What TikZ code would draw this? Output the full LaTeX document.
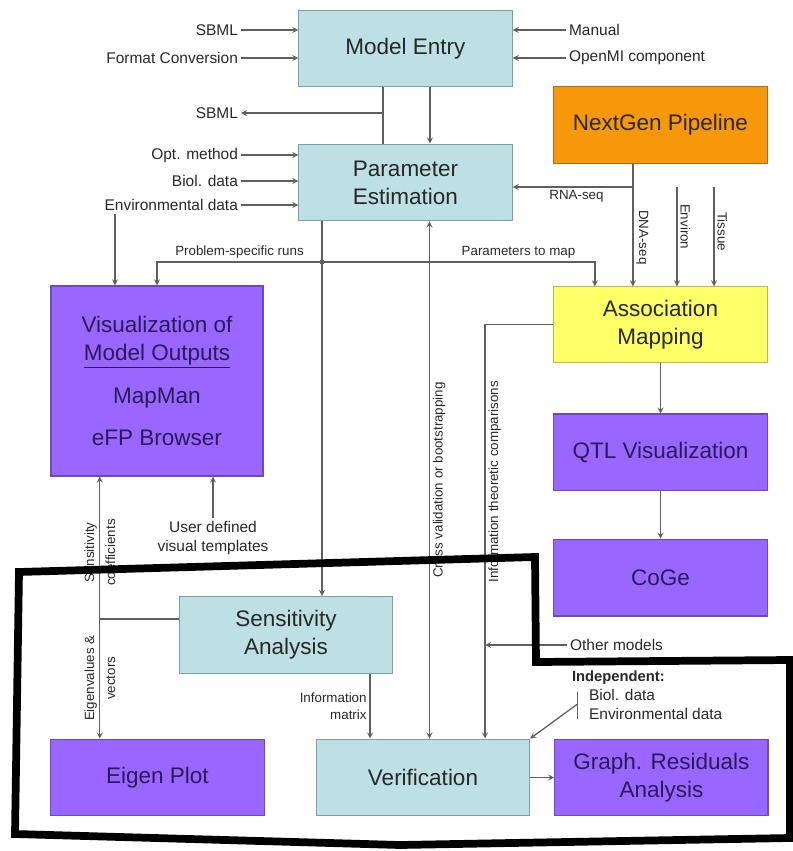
\documentclass[tikz,border=0pt]{standalone}
\usepackage{fontspec}
\setmainfont{Liberation Sans}
\usepackage{tikz}
\usetikzlibrary{arrows,positioning,calc}
\usepackage{xcolor}
\definecolor{mgteal}{RGB}{189,224,228}
\definecolor{mgtealdark}{RGB}{125,160,165}
\definecolor{mgpurple}{RGB}{153,102,255}
\definecolor{mgpurpledark}{RGB}{105,75,190}
\definecolor{mgpurpletext}{RGB}{45,25,90}
\definecolor{mgyellow}{RGB}{255,255,102}
\definecolor{mgyellowdark}{RGB}{185,185,90}
\definecolor{mgorange}{RGB}{245,152,10}
\definecolor{mgorangedark}{RGB}{180,105,30}
\definecolor{mgline}{RGB}{95,95,95}
\definecolor{mgtext}{RGB}{40,40,40}
\tikzstyle{arrow} = [->,>=stealth,color=mgline,line width=0.9pt]
\tikzstyle{wire} = [color=mgline,line width=0.9pt]
\tikzstyle{tealbox} = [rectangle, minimum width=5.33cm, minimum height=1.92cm, text centered, align=center, draw=mgtealdark, fill=mgteal, line width=0.8pt, text=mgtext, font=\fontsize{16}{20}\selectfont]
\tikzstyle{purplebox} = [tealbox, draw=mgpurpledark, fill=mgpurple, text=mgpurpletext]
\tikzstyle{yellowbox} = [tealbox, draw=mgyellowdark, fill=mgyellow]
\tikzstyle{orangebox} = [tealbox, draw=mgorangedark, fill=mgorange]
\tikzstyle{inlabel} = [font=\fontsize{11}{13.5}\selectfont, text=mgtext, inner sep=2pt]
\tikzstyle{wirelabel} = [font=\fontsize{9.5}{12.5}\selectfont, text=mgtext, inner sep=2pt]

\begin{document}
\begin{tikzpicture}[x=0.025cm, y=-0.025cm]
\useasboundingbox (0,0) rectangle (793,851);

% Model boxes
\node[tealbox] (entry) at (405.5,48.5) {Model Entry};
\node[tealbox] (param) at (405.5,182.5) {Parameter\\Estimation};
\node[orangebox] (nextgen) at (660.5,125) {NextGen Pipeline};
\node[yellowbox, minimum height=1.88cm] (assoc) at (660.5,324.5) {Association\\Mapping};
\node[purplebox, below=1.27cm of assoc] (qtl) {QTL Visualization};
\node[purplebox, below=1.18cm of qtl] (coge) {CoGe};
\node[purplebox, minimum width=5.3cm, minimum height=4.75cm] (vis) at (157,381) {Visualization of\\\underline{Model Outputs}\\[10pt]MapMan\\[10pt]eFP Browser};
\node[tealbox] (sens) at (286,635) {Sensitivity\\Analysis};
\node[purplebox] (eigen) at (157.5,777.5) {Eigen Plot};
\node[tealbox] (verif) at (423,777.5) {Verification};
\node[purplebox, right=0.6cm of verif] (resid) {Graph. Residuals\\Analysis};

% Inputs to model entry
\node[inlabel, anchor=east] (sbmlin) at (241,30) {SBML};
\node[inlabel, anchor=east] (fmtconv) at (241,58) {Format Conversion};
\node[inlabel, anchor=west] (manual) at (566,30) {Manual};
\node[inlabel, anchor=west] (openmi) at (566,58) {OpenMI component};
\draw[arrow] (sbmlin.east) -- (sbmlin.east -| entry.west);
\draw[arrow] (fmtconv.east) -- (fmtconv.east -| entry.west);
\draw[arrow] (manual.west) -- (manual.west -| entry.east);
\draw[arrow] (openmi.west) -- (openmi.west -| entry.east);

% SBML export and entry to estimation
\node[inlabel, anchor=east] (sbmlout) at (241,113) {SBML};
\coordinate (sbmlsplit) at (383,113);
\draw[wire] (sbmlsplit |- entry.south) -- (sbmlsplit |- param.north);
\draw[arrow] (sbmlsplit) -- (sbmlout.east);
\draw[arrow] ([xshift=0.61cm]entry.south) -- ([xshift=0.61cm]param.north);

% Inputs to parameter estimation
\node[inlabel, anchor=east] (optm) at (241,155) {Opt. method};
\node[inlabel, anchor=east] (biol) at (241,181) {Biol. data};
\node[inlabel, anchor=east] (envd) at (241,205) {Environmental data};
\draw[arrow] (optm.east) -- (optm.east -| param.west);
\draw[arrow] (biol.east) -- (biol.east -| param.west);
\draw[arrow] (envd.east) -- (envd.east -| param.west);
\draw[arrow] ([xshift=-1.05cm]vis.north |- envd.south) -- ([xshift=-1.05cm]vis.north);

% NextGen outputs
\coordinate (rnasplit) at (633,187);
\coordinate (environ) at (677,187);
\coordinate (tissue) at (714,187);
\draw[arrow] ([xshift=-0.69cm]nextgen.south) -- ([xshift=-0.69cm]assoc.north)
  node[pos=0.6, rotate=-90, anchor=south, wirelabel] {DNA-seq};
\draw[arrow] (rnasplit) -- (rnasplit -| param.east) node[pos=0.47, below, wirelabel] {RNA-seq};
\draw[arrow] (environ) -- (environ |- assoc.north) node[pos=0.4, rotate=-90, anchor=south, wirelabel] {Environ};
\draw[arrow] (tissue) -- (tissue |- assoc.north) node[pos=0.45, rotate=-90, anchor=south, wirelabel] {Tissue};

% Runs and parameters
\coordinate (runsplit) at (322,262);
\draw[arrow] (runsplit |- param.south) -- (runsplit |- sens.north);
\fill[mgline] (runsplit) circle (2.5);
\draw[arrow] (runsplit) -| (vis.north) node[pos=0.25, above, wirelabel] {Problem-specific runs};
\draw[arrow] (runsplit) -| ([xshift=-1.64cm]assoc.north) node[pos=0.36, above, wirelabel] {Parameters to map};

% Association mapping chain
\draw[arrow] (assoc) -- (qtl);
\draw[arrow] (qtl) -- (coge);

% Verification inputs
\draw[arrow, <->] ([xshift=0.6cm]param.south) -- ([xshift=0.6cm]param.south |- verif.north)
  node[midway, rotate=90, anchor=north, wirelabel] {Cross validation or bootstrapping};
\coordinate (infox) at ([xshift=1.55cm]verif.north);
\draw[arrow] (assoc.west) -| (infox) node[pos=0.69, rotate=90, anchor=north, wirelabel] {Information theoretic comparisons};
\node[inlabel, anchor=west] (othm) at (567,645) {Other models};
\draw[arrow] (othm.west) -- (othm.west -| infox);

% Sensitivity and eigen plot
\coordinate (eigx) at ([xshift=-1.43cm]vis.south);
\draw[arrow, <->] (eigx) -- (eigx |- eigen.north)
  node[pos=0.29, rotate=90, align=center, wirelabel, font=\fontsize{9.5}{15}\selectfont] {Sensitivity\\coefficients}
  node[pos=0.77, rotate=90, align=center, wirelabel, font=\fontsize{9.5}{15}\selectfont] {Eigenvalues \&\\vectors};
\draw[wire] ([yshift=0.4cm]sens.west) -- ([yshift=0.4cm]sens.west -| eigx);
\node[inlabel, align=center] (usertpl) at (213,538) {User defined\\visual templates};
\draw[arrow] (usertpl.north) -- (usertpl.north |- vis.south);
\draw[arrow] ([xshift=2.1cm]sens.south) -- ([xshift=2.1cm]sens.south |- verif.north)
  node[midway, left, align=right, wirelabel] {Information\\matrix};
\draw[arrow] (verif) -- (resid);

% Independent data
\node[inlabel, anchor=west, font=\fontsize{10.5}{12}\selectfont\bfseries] (indephead) at (569,678) {Independent:};
\node[inlabel, anchor=north west, align=left] (indepdata) at (586,686) {Biol. data\\Environmental data};
\draw[wire] ([xshift=-0.22cm, yshift=-0.15cm]indepdata.north west) -- ([xshift=-0.22cm, yshift=0.1cm]indepdata.south west);
\draw[arrow] ([xshift=-0.22cm]indepdata.west) -- (verif.north east);

% Highlighted region
\draw[line width=5.5pt, line join=miter] (19,572) -- (535,557) -- (536,662) -- (790,660) -- (790,838) -- (400,845) -- (15,834) -- cycle;
\end{tikzpicture}
\end{document}
